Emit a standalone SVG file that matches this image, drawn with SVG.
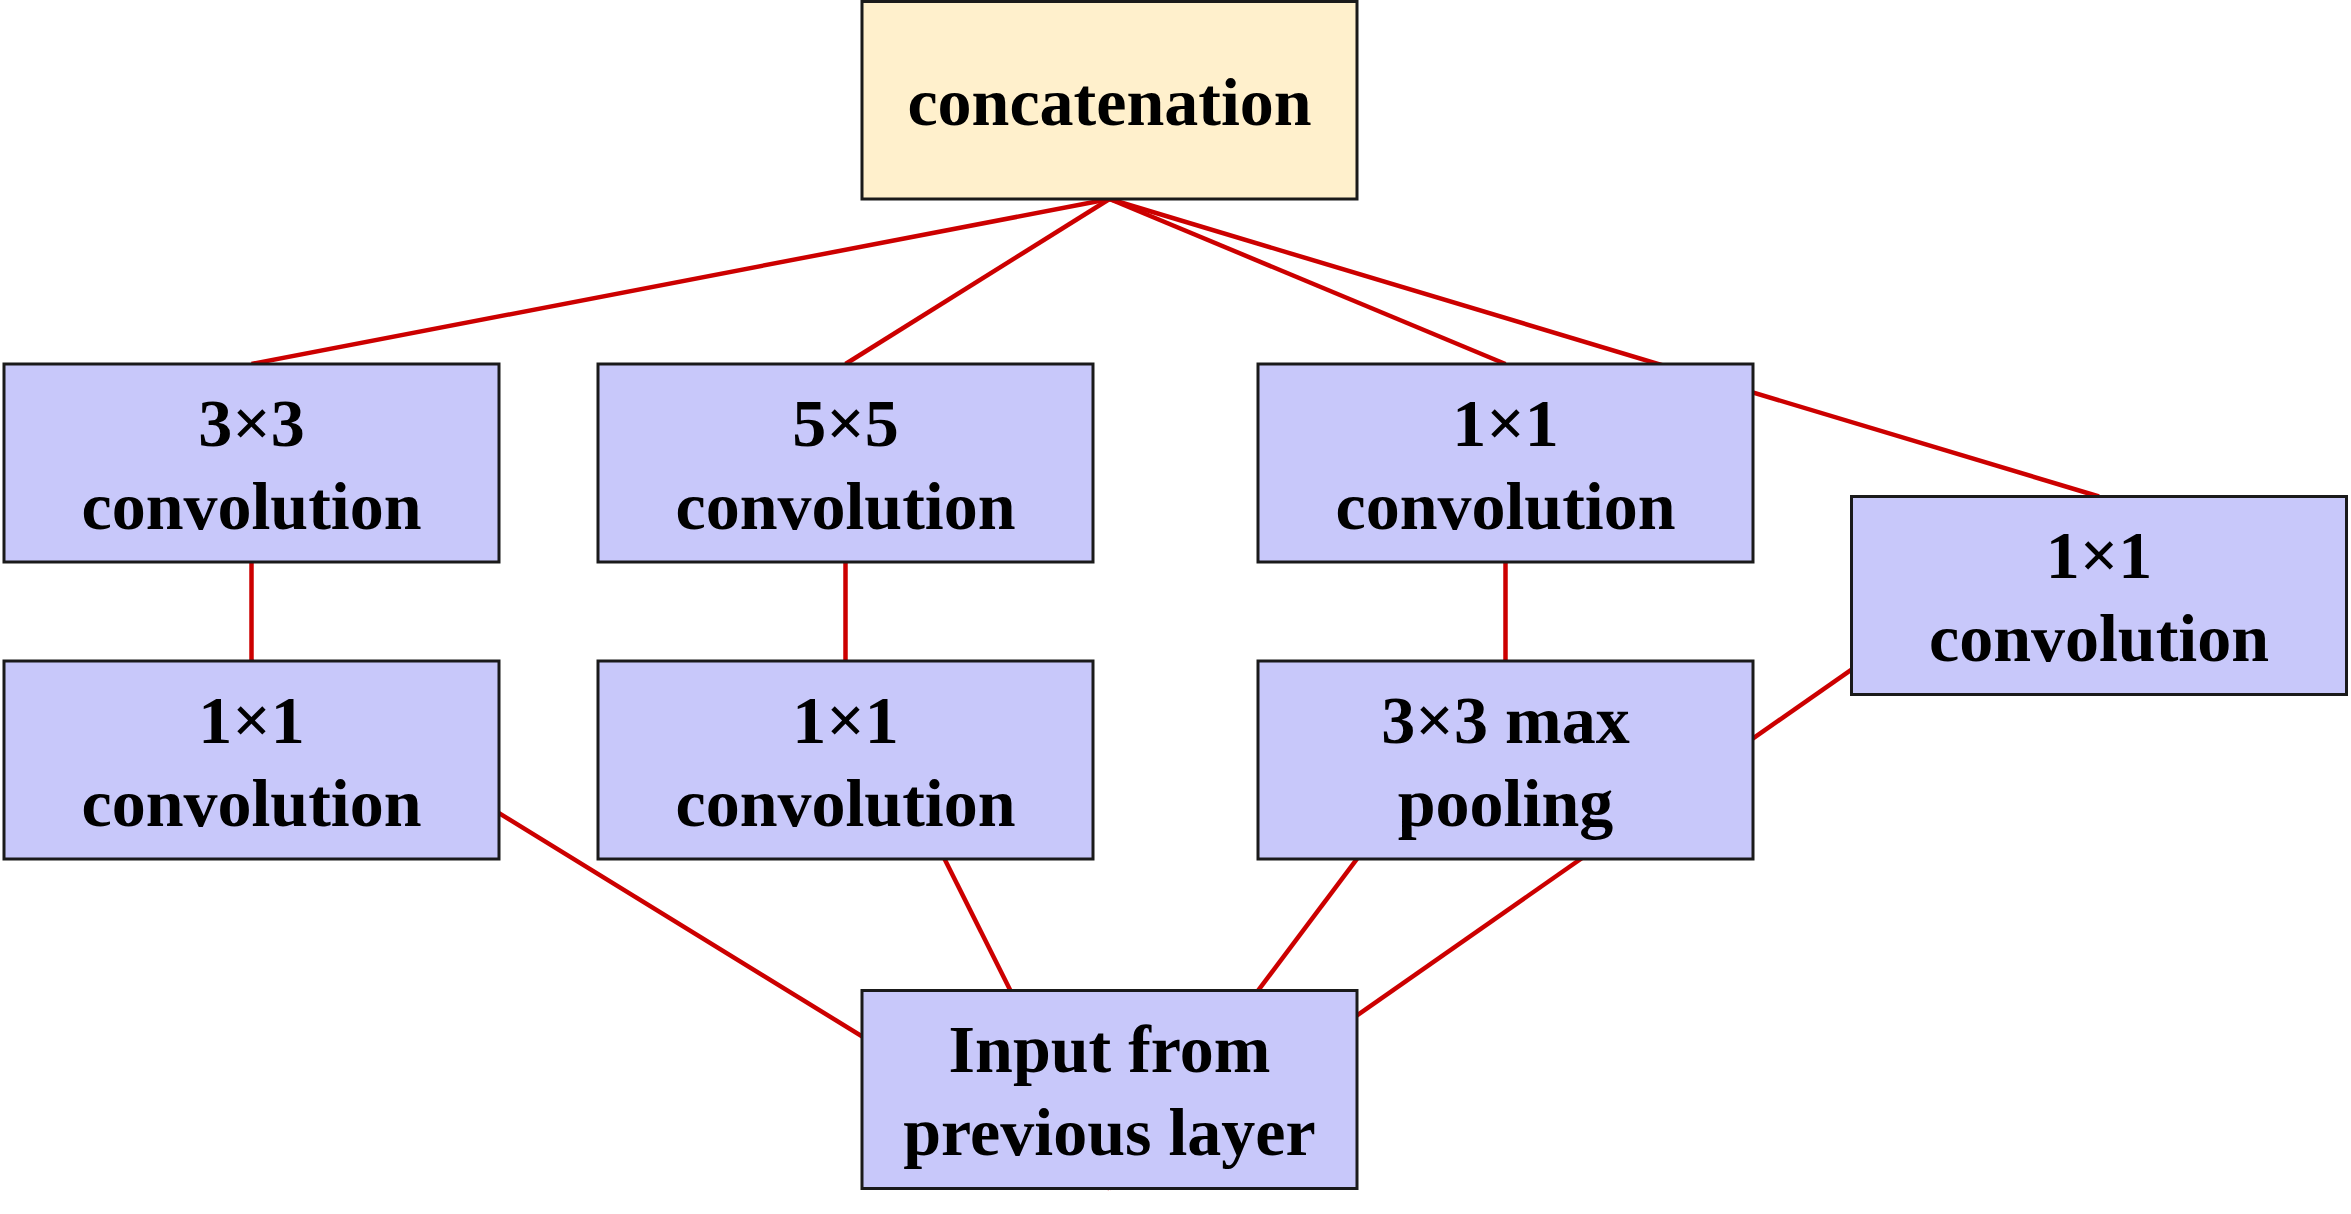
<svg xmlns="http://www.w3.org/2000/svg" width="2351" height="1214" viewBox="0 0 2351 1214">
<style>
.box{fill:#C8C8FA;stroke:#1A1A1A;stroke-width:3}
.cat{fill:#FFF0CC;stroke:#1A1A1A;stroke-width:3}
.t{font-family:"Liberation Serif","Times New Roman",serif;font-weight:bold;font-size:68px;text-anchor:middle;fill:#000}
.e{stroke:#CC0000;stroke-width:4.5;fill:none}
</style>
<rect width="2351" height="1214" fill="#FFFFFF"/>
<g id="connectors">
<line class="e" x1="1109.5" y1="199" x2="251.5" y2="364"/>
<line class="e" x1="1109.5" y1="199" x2="845.5" y2="364"/>
<line class="e" x1="1109.5" y1="199" x2="1505.5" y2="364"/>
<line class="e" x1="1109.5" y1="199" x2="2099" y2="496.5"/>
<line class="e" x1="251.5" y1="562" x2="251.5" y2="661"/>
<line class="e" x1="845.5" y1="562" x2="845.5" y2="661"/>
<line class="e" x1="1505.5" y1="562" x2="1505.5" y2="661"/>
<line class="e" x1="251.5" y1="661" x2="1109.5" y2="1188.5"/>
<line class="e" x1="845.5" y1="661" x2="1109.5" y2="1188.5"/>
<line class="e" x1="1505.5" y1="661" x2="1109.5" y2="1188.5"/>
<line class="e" x1="2099" y1="496.5" x2="1109.5" y2="1188.5"/>
</g>
<g id="concatenation">
<rect class="cat" x="862" y="1.5" width="495" height="197.5"/>
<text class="t" x="1109.5" y="125">concatenation</text>
</g>
<g id="conv3x3">
<rect class="box" x="4" y="364" width="495" height="198"/>
<text class="t" x="251.5" y="446">3×3</text>
<text class="t" x="251.5" y="529">convolution</text>
</g>
<g id="conv5x5">
<rect class="box" x="598" y="364" width="495" height="198"/>
<text class="t" x="845.5" y="446">5×5</text>
<text class="t" x="845.5" y="529">convolution</text>
</g>
<g id="conv1x1_pool">
<rect class="box" x="1258" y="364" width="495" height="198"/>
<text class="t" x="1505.5" y="446">1×1</text>
<text class="t" x="1505.5" y="529">convolution</text>
</g>
<g id="conv1x1_direct">
<rect class="box" x="1851.5" y="496.5" width="495" height="198"/>
<text class="t" x="2099" y="578">1×1</text>
<text class="t" x="2099" y="661">convolution</text>
</g>
<g id="reduce3x3">
<rect class="box" x="4" y="661" width="495" height="198"/>
<text class="t" x="251.5" y="743">1×1</text>
<text class="t" x="251.5" y="826">convolution</text>
</g>
<g id="reduce5x5">
<rect class="box" x="598" y="661" width="495" height="198"/>
<text class="t" x="845.5" y="743">1×1</text>
<text class="t" x="845.5" y="826">convolution</text>
</g>
<g id="maxpool">
<rect class="box" x="1258" y="661" width="495" height="198"/>
<text class="t" x="1505.5" y="743">3×3 max</text>
<text class="t" x="1505.5" y="826">pooling</text>
</g>
<g id="input">
<rect class="box" x="862" y="990.5" width="495" height="198"/>
<text class="t" x="1109.5" y="1072">Input from</text>
<text class="t" x="1109.5" y="1155">previous layer</text>
</g>
</svg>
